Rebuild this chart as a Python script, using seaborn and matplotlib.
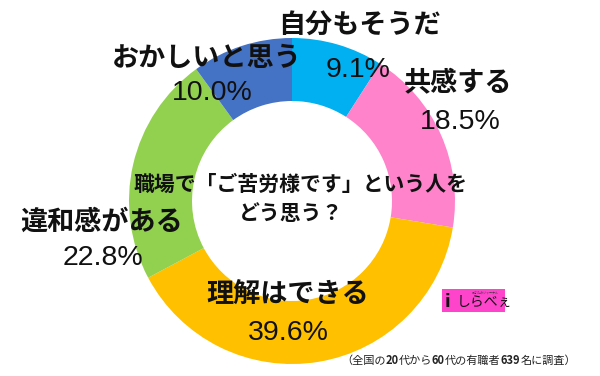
import matplotlib
matplotlib.use("Agg")
import matplotlib.pyplot as plt
from matplotlib import font_manager
import seaborn as sns

# ---- data ----
categories = ['自分もそうだ', '共感する', '理解はできる', '違和感がある', 'おかしいと思う']
values = [9.1, 18.5, 39.6, 22.8, 10.0]
slice_colors = ['#00B0F0', '#FF83CB', '#FFC000', '#92D050', '#4472C4']
title_lines = ['職場で「ご苦労様です」という人を', 'どう思う？']
note_parts = [('（全国の', False), ('20', True), ('代から', False), ('60', True),
              ('代の有職者', False), ('639', True), ('名に調査）', False)]

sns.set_theme(style='white')
palette = sns.color_palette(slice_colors)

cjk = 'Noto Sans CJK JP'
avail = {f.name for f in font_manager.fontManager.ttflist}
narrow = 'Liberation Sans Narrow' if 'Liberation Sans Narrow' in avail else 'Liberation Sans'
pct_size = 22.5 if narrow == 'Liberation Sans Narrow' else 20.5
plt.rcParams['font.family'] = [cjk, 'DejaVu Sans']

W, H = 600, 376
fig = plt.figure(figsize=(6, 3.76), dpi=100)
ax = fig.add_axes([0, 0, 1, 1])

def Y(y):
    return H - y

ax.pie(values, colors=palette, startangle=90, counterclock=False,
       center=(292, Y(201)), radius=163, frame=True,
       wedgeprops=dict(width=63, edgecolor='none', linewidth=0))
ax.set_xlim(0, W)
ax.set_ylim(0, H)
ax.set_aspect('equal')
ax.axis('off')

# label positions (pixel coords of label centers)
name_pos = [(360, 25), (458, 83), (288, 295), (102, 222), (207, 58)]
pct_pos = [(358, 70), (460, 122), (288, 333), (103, 258), (212, 93)]

for cat, v, (nx, ny), (px, py) in zip(categories, values, name_pos, pct_pos):
    ax.text(nx, Y(ny), cat, ha='center', va='center', fontsize=19.5,
            fontweight='bold', family=[cjk], color='#111111')
    ax.text(px, Y(py), f'{v:.1f}%', ha='center', va='center', fontsize=pct_size,
            family=[narrow], color='#111111')

ax.text(300, Y(184), title_lines[0], ha='center', va='center', fontsize=15,
        fontweight='bold', family=[cjk], color='#111111')
ax.text(291, Y(213), title_lines[1], ha='center', va='center', fontsize=15,
        fontweight='bold', family=[cjk], color='#111111')

# logo
ax.add_patch(plt.Rectangle((442, Y(312)), 63, 23, facecolor='#FF44CC',
                           edgecolor='none'))
ax.text(445, Y(302), 'i', ha='left', va='center', fontsize=12,
        fontweight='bold', family=['DejaVu Sans'], color='#111111')
ax.text(457, Y(302), 'しらべぇ', ha='left', va='center', fontsize=10,
        family=[cjk], color='#111111')
ax.text(485, Y(292.5), 'あなたのジャーナル', ha='center', va='center', fontsize=2.2,
        family=[cjk], color='#333333')

# footnote with bold numbers
fig.canvas.draw()
renderer = fig.canvas.get_renderer()
x = 341
for txt, bold in note_parts:
    t = ax.text(x, Y(361), txt, ha='left', va='center', fontsize=8,
                fontweight='bold' if bold else 'normal', family=[cjk],
                color='#222222')
    bb = t.get_window_extent(renderer=renderer)
    x += bb.width

fig.savefig('out.png', dpi=100, facecolor='white')
